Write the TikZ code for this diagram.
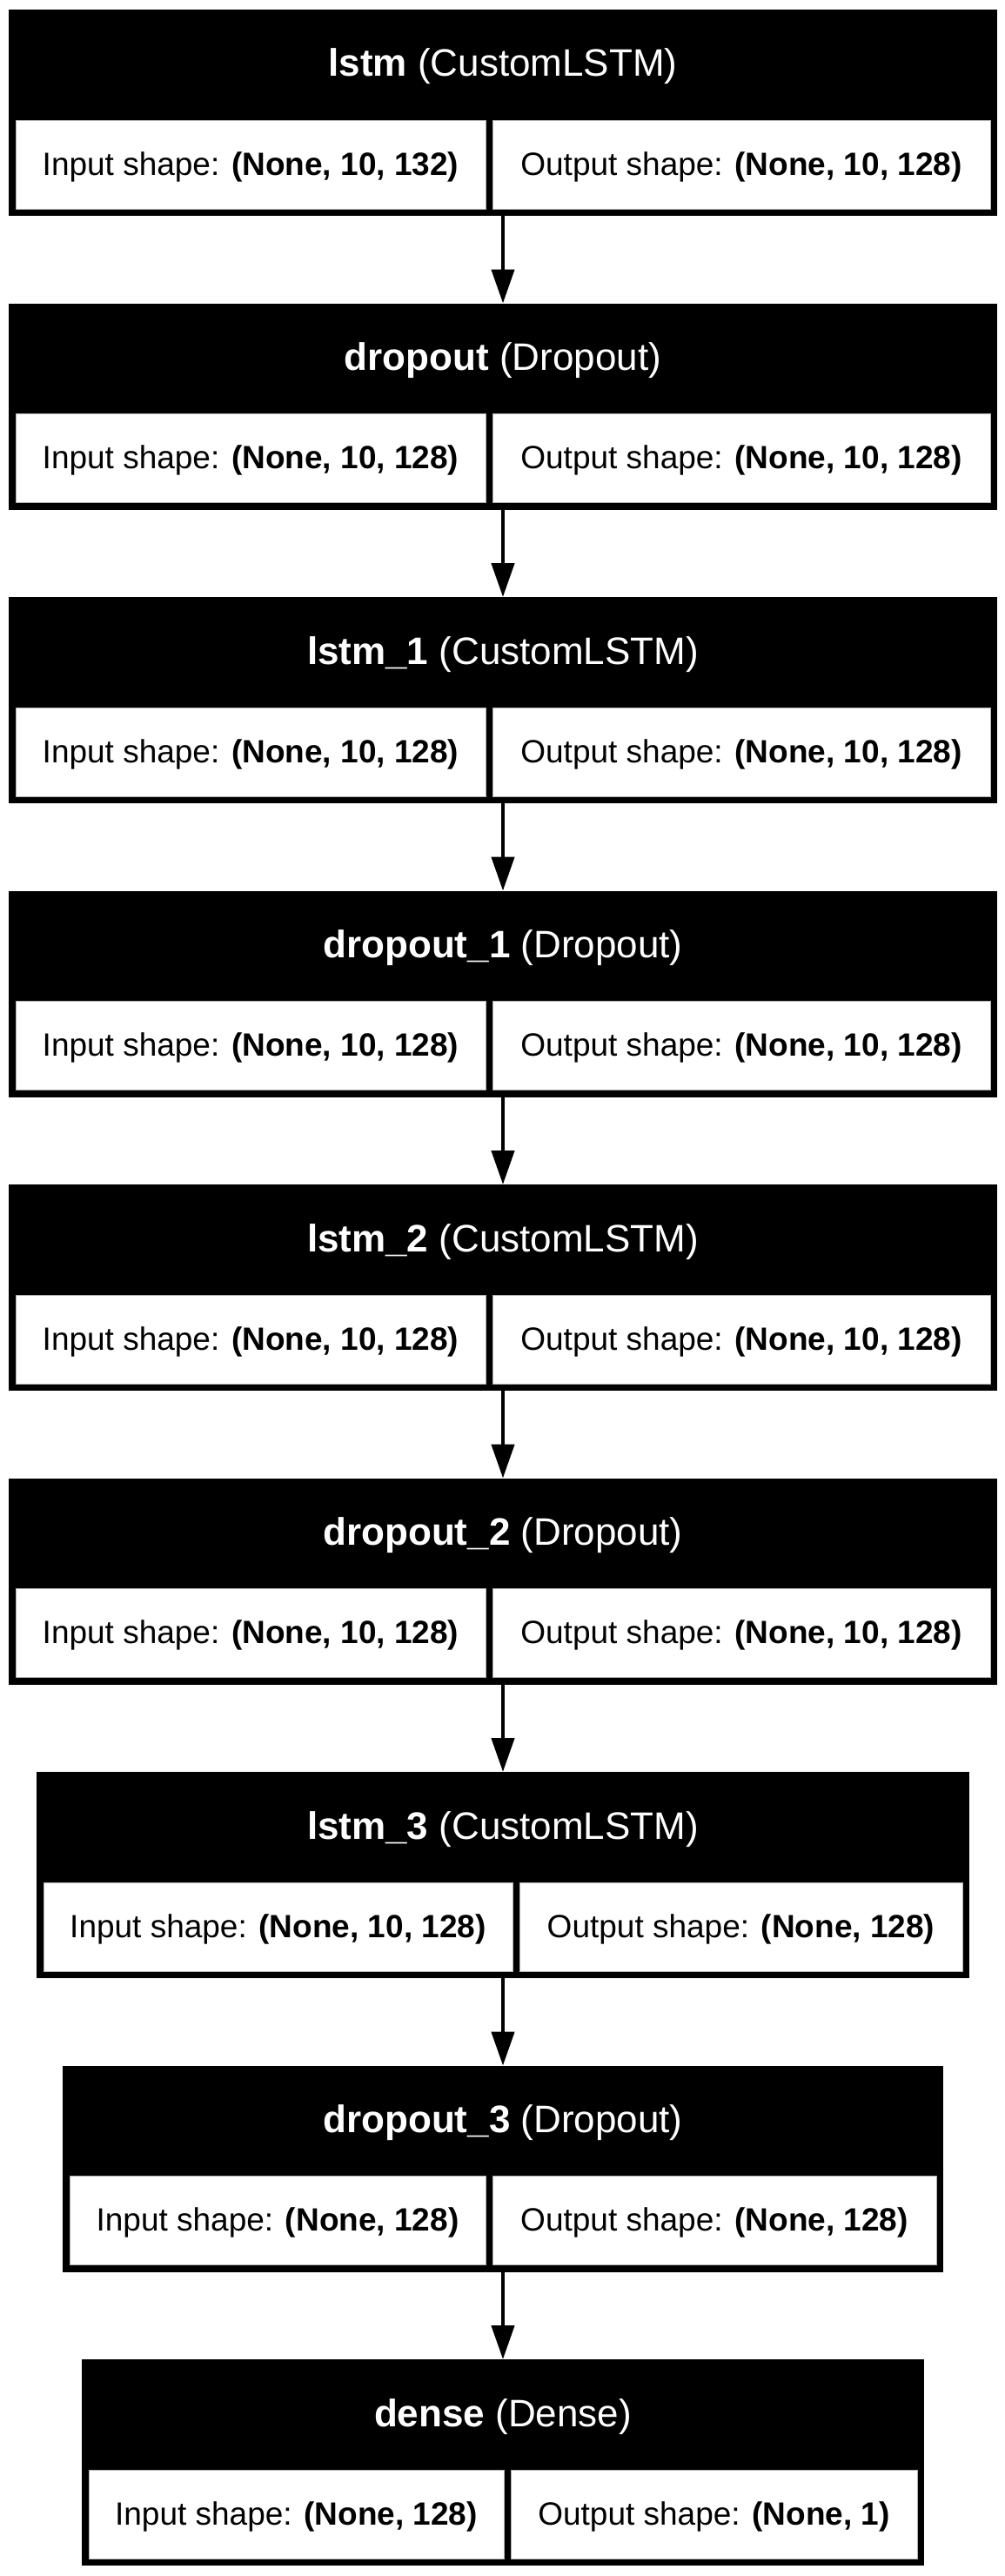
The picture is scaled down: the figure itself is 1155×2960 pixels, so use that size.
\documentclass[tikz,border=0pt]{standalone}
\usepackage{fontspec}
\setmainfont{Liberation Sans}
\usetikzlibrary{arrows.meta}
\tikzset{
  outerbox/.style={rectangle, fill=black, inner sep=0pt, outer sep=0pt},
  cellbox/.style={rectangle, fill=white, draw=black!30, line width=0.8pt, inner sep=0pt, outer sep=0pt},
  headtext/.style={text=white, font=\fontsize{44}{52}\selectfont, inner sep=0pt, anchor=base},
  celltext/.style={text=black, font=\fontsize{37}{44}\selectfont, inner sep=0pt, anchor=base},
  flow/.style={line width=4.5pt, -{Triangle[length=39pt,width=26pt]}},
}
% #1 name, #2 top, #3 left, #4 right, #5 divider left, #6 divider right, #7 header, #8 input, #9 output
\newcommand\layerblock[9]{%
  \node[outerbox, minimum width={#4-#3}, minimum height=237pt] (#1) at ({(#3+#4)/2},{#2+118.5}) {};
  \node[cellbox, minimum width={#5-#3-8}, minimum height=102pt] (#1-inc) at ({(#3+8+#5)/2},{#2+178}) {};
  \node[cellbox, minimum width={#4-8-#6}, minimum height=102pt] (#1-outc) at ({(#6+#4-8)/2},{#2+178}) {};
  \node[headtext] (#1-h) at ({(#3+#4)/2},{#2+77}) {#7};
  \node[celltext] (#1-in) at ({(#3+8+#5)/2},{#2+190}) {Input shape: \textbf{#8}};
  \node[celltext] (#1-out) at ({(#6+#4-8)/2},{#2+190}) {Output shape: \textbf{#9}};
}
\begin{document}
\begin{tikzpicture}[x=1pt, y=-1pt]
  \useasboundingbox (0,0) rectangle (1155,2960);
  \fill[white] (0,0) rectangle (1155,2960);
  \layerblock{b1}{11}{10}{1146}{558}{566}{\textbf{lstm} (CustomLSTM)}{(None, 10, 132)}{(None, 10, 128)}
  \layerblock{b2}{348.5}{10}{1146}{558}{566}{\textbf{dropout} (Dropout)}{(None, 10, 128)}{(None, 10, 128)}
  \layerblock{b3}{686}{10}{1146}{558}{566}{\textbf{lstm\_1} (CustomLSTM)}{(None, 10, 128)}{(None, 10, 128)}
  \layerblock{b4}{1023.5}{10}{1146}{558}{566}{\textbf{dropout\_1} (Dropout)}{(None, 10, 128)}{(None, 10, 128)}
  \layerblock{b5}{1361}{10}{1146}{558}{566}{\textbf{lstm\_2} (CustomLSTM)}{(None, 10, 128)}{(None, 10, 128)}
  \layerblock{b6}{1698.5}{10}{1146}{558}{566}{\textbf{dropout\_2} (Dropout)}{(None, 10, 128)}{(None, 10, 128)}
  \layerblock{b7}{2036}{42}{1114}{589}{597}{\textbf{lstm\_3} (CustomLSTM)}{(None, 10, 128)}{(None, 128)}
  \layerblock{b8}{2373.5}{72}{1084}{558}{566}{\textbf{dropout\_3} (Dropout)}{(None, 128)}{(None, 128)}
  \layerblock{b9}{2711}{94}{1062}{579}{587}{\textbf{dense} (Dense)}{(None, 128)}{(None, 1)}
  \draw[flow] (b1.south) -- (b2.north);
  \draw[flow] (b2.south) -- (b3.north);
  \draw[flow] (b3.south) -- (b4.north);
  \draw[flow] (b4.south) -- (b5.north);
  \draw[flow] (b5.south) -- (b6.north);
  \draw[flow] (b6.south) -- (b7.north);
  \draw[flow] (b7.south) -- (b8.north);
  \draw[flow] (b8.south) -- (b9.north);
\end{tikzpicture}
\end{document}
